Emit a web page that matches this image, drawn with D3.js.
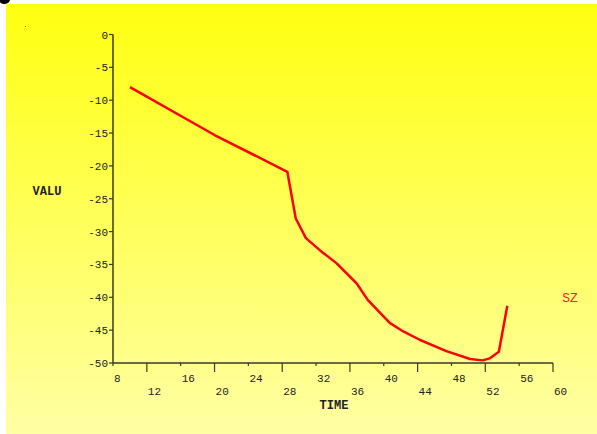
<!DOCTYPE html>
<html>
<head>
<meta charset="utf-8">
<script src="https://cdn.jsdelivr.net/npm/d3@7"></script>
<style>
  body { margin: 0; background: #fff; }
  text { font-family: "Liberation Mono", "DejaVu Sans Mono", monospace; }
</style>
</head>
<body>
<svg id="chart"></svg>
<script>
// series SZ
const time = [10, 20, 28.6, 29.6, 30.8, 32.5, 34.4, 36.8, 38.1, 40.7, 42.3, 44.3, 47.4, 50.2, 51.7, 52.5, 53.6, 54.6];
const valu = [-8, -15.3, -20.9, -28, -31, -32.9, -34.8, -37.9, -40.4, -43.9, -45.2, -46.5, -48.2, -49.4, -49.6, -49.3, -48.3, -41.3];
const xTicks = [8, 12, 16, 20, 24, 28, 32, 36, 40, 44, 48, 52, 56, 60];
const yTicks = [0, -5, -10, -15, -20, -25, -30, -35, -40, -45, -50];
const seriesName = 'SZ';

const W = 597, H = 434;
const margin = { top: 34.5, left: 113, right: 44, bottom: 71 };

const svg = d3.select('#chart').attr('width', W).attr('height', H);

// background gradient
const grad = svg.append('defs').append('linearGradient')
    .attr('id', 'bg').attr('x1', 0).attr('y1', 0).attr('x2', 0).attr('y2', 1);
grad.append('stop').attr('offset', '0%').attr('stop-color', '#ffff10');
grad.append('stop').attr('offset', '100%').attr('stop-color', '#ffffa4');
svg.append('rect').attr('x', 6).attr('y', 4).attr('width', W - 6).attr('height', H - 4)
    .attr('fill', 'url(#bg)');
// clipped corner of a glyph in the top-left
svg.append('path').attr('d', 'M0,0 L10,0 Q9,3.5 5,4 Q1,4 0,2 Z').attr('fill', '#000');
svg.append('rect').attr('x', 25).attr('y', 26).attr('width', 1).attr('height', 1).attr('fill', '#666');

const x = d3.scaleLinear().domain([8, 60]).range([margin.left, W - margin.right]);
const y = d3.scaleLinear().domain([0, -50]).range([margin.top, H - margin.bottom]);
const axisColor = '#3a3a20';

// y axis
const gy = svg.append('g');
gy.append('line').attr('x1', x(8)).attr('x2', x(8)).attr('y1', y(0)).attr('y2', y(-50))
    .attr('stroke', axisColor).attr('stroke-width', 1.5);
gy.selectAll('line.t').data(yTicks).join('line').attr('class', 't')
    .attr('x1', x(8) - 4).attr('x2', x(8)).attr('y1', (d) => y(d)).attr('y2', (d) => y(d))
    .attr('stroke', axisColor).attr('stroke-width', 1.2);
gy.selectAll('text').data(yTicks).join('text')
    .attr('x', x(8) - 5).attr('y', (d) => y(d) + 4)
    .attr('text-anchor', 'end').attr('font-size', 11).attr('fill', '#222')
    .text((d) => d === 0 ? '0' : '-' + Math.abs(d));

// x axis
const gx = svg.append('g');
gx.append('line').attr('x1', x(8)).attr('x2', x(60)).attr('y1', y(-50)).attr('y2', y(-50))
    .attr('stroke', axisColor).attr('stroke-width', 1.5);
gx.selectAll('line.t').data(xTicks).join('line').attr('class', 't')
    .attr('x1', (d) => x(d)).attr('x2', (d) => x(d))
    .attr('y1', y(-50)).attr('y2', (d, i) => y(-50) + (i % 2 ? 9 : 3))
    .attr('stroke', axisColor).attr('stroke-width', 1.2);
gx.selectAll('text').data(xTicks).join('text')
    .attr('x', (d) => x(d) + 1).attr('y', (d, i) => i % 2 ? 395 : 382)
    .attr('font-size', 11).attr('fill', '#222')
    .text((d) => d);

// axis titles
svg.append('text').attr('x', 334).attr('y', 409).attr('text-anchor', 'middle')
    .attr('font-size', 12).attr('font-weight', 'bold').attr('fill', '#222').text('TIME');
svg.append('text').attr('x', 47).attr('y', 195).attr('text-anchor', 'middle')
    .attr('font-size', 12).attr('font-weight', 'bold').attr('fill', '#222').text('VALU');

// line
const line = d3.line().x((d) => x(d[0])).y((d) => y(d[1]));
svg.append('path').datum(d3.zip(time, valu))
    .attr('d', line).attr('fill', 'none').attr('stroke', '#ff0000')
    .attr('stroke-width', 2.5).attr('stroke-linejoin', 'round');

// legend label
svg.append('text').attr('x', 570).attr('y', 302).attr('text-anchor', 'middle')
    .attr('font-size', 13).attr('fill', '#ff2020').text(seriesName);
</script>
</body>
</html>
